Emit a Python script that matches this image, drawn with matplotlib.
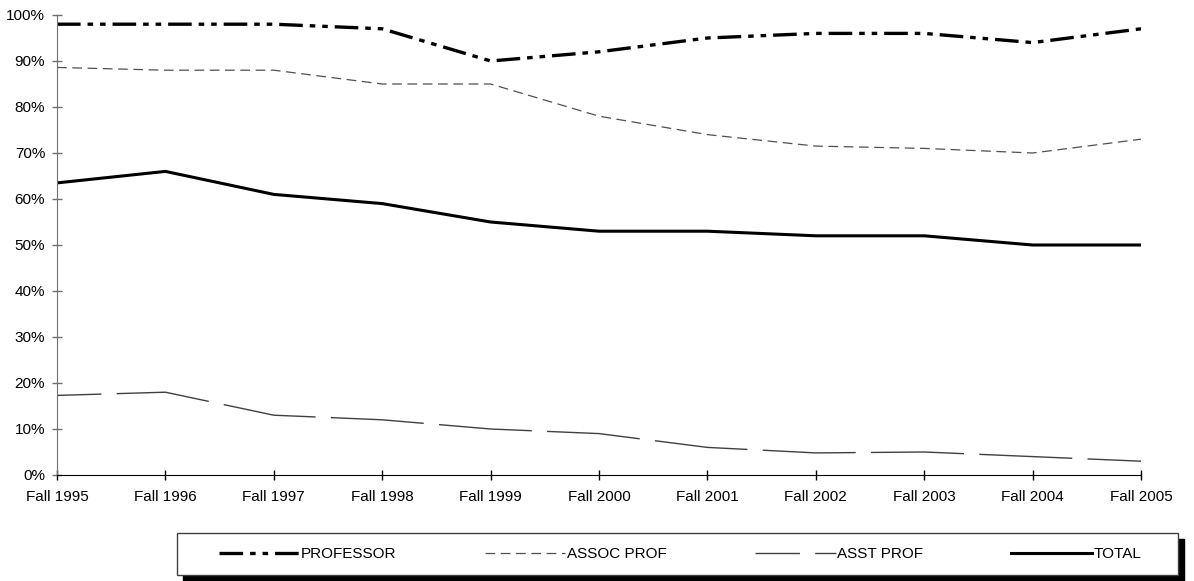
import matplotlib.pyplot as plt
from matplotlib.patches import Rectangle

plt.rcParams['font.family'] = ['Liberation Sans', 'DejaVu Sans']
plt.rcParams['lines.scale_dashes'] = False

# Данные
years = ['Fall 1995', 'Fall 1996', 'Fall 1997', 'Fall 1998', 'Fall 1999', 'Fall 2000',
         'Fall 2001', 'Fall 2002', 'Fall 2003', 'Fall 2004', 'Fall 2005']
professor = [98, 98, 98, 97, 90, 92, 95, 96, 96, 94, 97]
assoc_prof = [88.6, 88, 88, 85, 85, 78, 74, 71.5, 71, 70, 73]
asst_prof = [17.3, 18, 13, 12, 10, 9, 6, 4.8, 5, 4, 3]
total = [63.5, 66, 61, 59, 55, 53, 53, 52, 52, 50, 50]

W, H = 1194, 581
fig = plt.figure(figsize=(W / 100, H / 100), dpi=100)
ax = fig.add_axes([57 / W, 1 - 475 / H, (1141 - 57) / W, (475 - 15) / H])

x = range(len(years))
ax.plot(x, professor, color='black', linewidth=2.4,
        linestyle=(0, (17, 5, 4, 5, 4, 5)), label='PROFESSOR')
ax.plot(x, assoc_prof, color='#505050', linewidth=0.9,
        linestyle=(0, (7, 4)), label='ASSOC PROF')
ax.plot(x, asst_prof, color='#404040', linewidth=1.0,
        linestyle=(35, (67, 11)), label='ASST PROF')
ax.plot(x, total, color='black', linewidth=2.2, label='TOTAL')

ax.set_xlim(0, len(years) - 1)
ax.set_ylim(0, 100)
ax.set_xticks(list(x))
ax.set_xticklabels(years)
ax.set_yticks(range(0, 101, 10))
ax.set_yticklabels([f'{v}%' for v in range(0, 101, 10)])

ax.spines['top'].set_visible(False)
ax.spines['right'].set_visible(False)
ax.spines['left'].set_color('#707070')
ax.spines['bottom'].set_color('black')
ax.tick_params(axis='y', direction='inout', length=7, width=1, color='#707070',
               labelsize=11, pad=5)
ax.tick_params(axis='x', direction='inout', length=7, width=1, color='black',
               labelsize=11, pad=7)

# Рамка легенды с тенью
box_l, box_r, box_t, box_b = 177, 1178, 533, 575
fig.add_artist(Rectangle(((box_l + 6) / W, 1 - (box_b + 6) / H), (box_r - box_l) / W,
                         (box_b - box_t) / H, transform=fig.transFigure,
                         facecolor='black', edgecolor='black', zorder=1))
fig.add_artist(Rectangle((box_l / W, 1 - box_b / H), (box_r - box_l) / W,
                         (box_b - box_t) / H, transform=fig.transFigure,
                         facecolor='white', edgecolor='#404040', linewidth=1, zorder=2))

fig.legend(loc='center', bbox_to_anchor=(680 / W, 1 - 554 / H), ncol=4,
           fontsize=11, handlelength=5.3, handletextpad=0.1, columnspacing=5.75,
           frameon=False)

plt.savefig('out.png', dpi=100)
